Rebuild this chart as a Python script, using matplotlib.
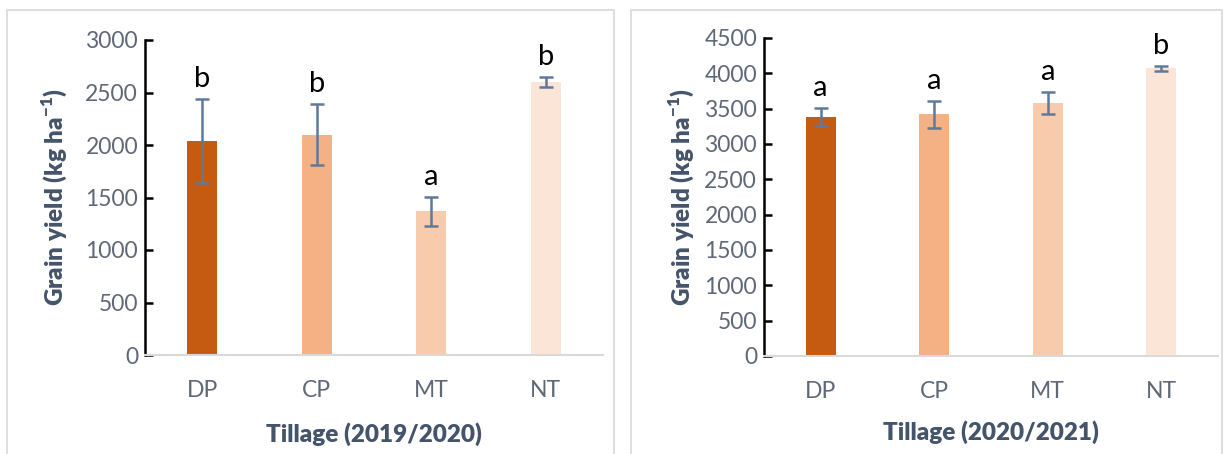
"""Grain yield by tillage system, two seasons side by side."""
import matplotlib.pyplot as plt
from matplotlib.patches import Rectangle

TILLAGE = ["DP", "CP", "MT", "NT"]

YIELD_2019 = [2040, 2100, 1368, 2600]
ERR_2019 = [400, 295, 140, 50]
LETTERS_2019 = ["b", "b", "a", "b"]

YIELD_2020 = [3380, 3420, 3580, 4075]
ERR_2020 = [130, 190, 155, 35]
LETTERS_2020 = ["a", "a", "a", "b"]

BAR_COLORS = ["#C55A11", "#F4B183", "#F8CBAD", "#FBE5D6"]
ERR_COLOR = "#60799A"
LABEL_COLOR = "#44546A"
TICK_COLOR = "#5F6876"

plt.rcParams["font.family"] = ["Lato", "DejaVu Sans"]

fig = plt.figure(figsize=(12.24, 4.54), dpi=100)

# light panel frames
for x0, x1 in [(7, 614), (631, 1222)]:
    fig.patches.append(Rectangle((x0 / 1224, -0.05), (x1 - x0) / 1224, 1.05 - 10 / 454,
                                 transform=fig.transFigure, fill=False,
                                 edgecolor="#D9D9D9", linewidth=1.2))


def panel(rect, values, errs, letters, ymax, xlabel, ypad, xpad):
    ax = fig.add_axes(rect)
    x = range(len(TILLAGE))
    ax.bar(x, values, width=0.26, color=BAR_COLORS, zorder=2)
    ax.errorbar(x, values, yerr=errs, fmt="none", ecolor=ERR_COLOR,
                elinewidth=1.8, capsize=5, capthick=1.8, zorder=3)
    for xi, v, e, lt in zip(x, values, errs, letters):
        ax.annotate(lt, (xi, v + e), xytext=(0, 5), textcoords="offset points",
                    ha="center", va="bottom", fontsize=21, color="black")
    ax.set_xlim(-0.5, len(TILLAGE) - 0.5)
    ax.set_ylim(0, ymax)
    ax.set_yticks(range(0, ymax + 1, 500))
    ax.set_xticks(list(x))
    ax.set_xticklabels(TILLAGE)
    for s in ("top", "right"):
        ax.spines[s].set_visible(False)
    ax.spines["left"].set_linewidth(1.8)
    ax.spines["left"].set_color("black")
    ax.spines["bottom"].set_color("#D9D9D9")
    ax.spines["bottom"].set_linewidth(1.5)
    ax.tick_params(axis="y", direction="in", length=6, width=1.8,
                   labelsize=16.5, labelcolor=TICK_COLOR, pad=5, color="black")
    ax.tick_params(axis="x", length=0, labelsize=16.5, labelcolor=TICK_COLOR, pad=18)
    ax.set_xlabel(xlabel, fontsize=17.5, fontweight="heavy", color=LABEL_COLOR, labelpad=xpad)
    ax.set_ylabel("Grain yield (kg ha$^{\\mathregular{-1}}$)", fontsize=17.5,
                  fontweight="heavy", color=LABEL_COLOR, labelpad=ypad)
    return ax


panel([145 / 1224, 1 - 355 / 454, 458 / 1224, 315 / 454],
      YIELD_2019, ERR_2019, LETTERS_2019, 3000, "Tillage (2019/2020)", 12, 15)
panel([764 / 1224, 1 - 356 / 454, 454 / 1224, 318 / 454],
      YIELD_2020, ERR_2020, LETTERS_2020, 4500, "Tillage (2020/2021)", 6, 13)

fig.savefig("out.png", dpi=100)
